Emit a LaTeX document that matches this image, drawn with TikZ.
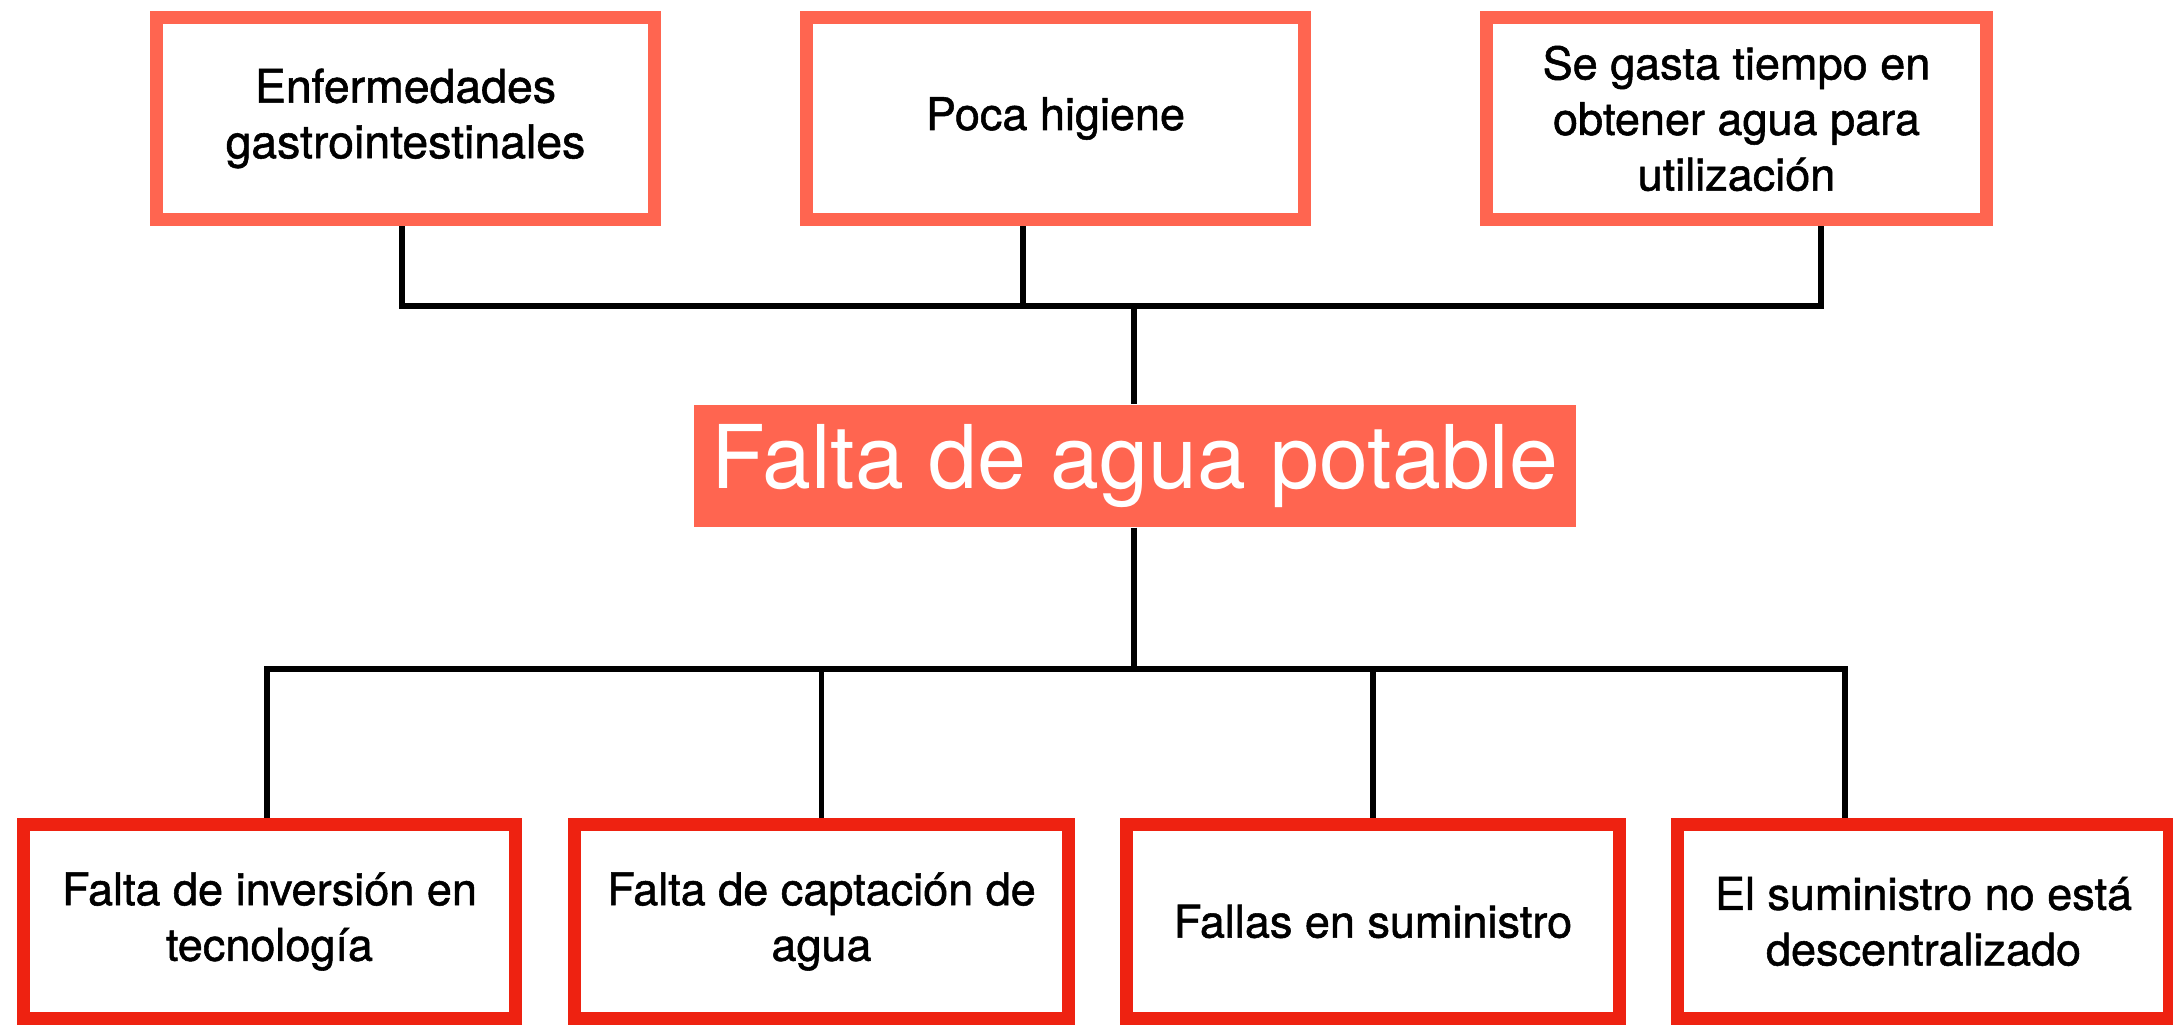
\documentclass[tikz,border=0pt]{standalone}
\usepackage{fontspec}
\setmainfont{TeX Gyre Heros}
\newfontfamily\medfont{TeX Gyre Heros}[FakeBold=1.2]
\definecolor{topred}{HTML}{FF6550}
\definecolor{botred}{HTML}{EE2211}
\begin{document}
\begin{tikzpicture}[x=0.01cm,y=-0.01cm,
  boxtext/.style={align=center, inner sep=0pt, font=\medfont\fontsize{12.8}{15.8}\selectfont},
  topbox/.style={boxtext, draw=topred, line width=3.7pt, fill=white, minimum height=2.02cm},
  botbox/.style={boxtext, draw=botred, line width=3.7pt, fill=white, minimum height=1.94cm},
  conn/.style={line width=1.45pt, black}]
\useasboundingbox (0,0) rectangle (2173,1025);
% junction coordinates
\coordinate (tl) at (402,306);
\coordinate (tm) at (1023,306);
\coordinate (tr) at (1821,306);
\coordinate (jt) at (1134,306);
\coordinate (jb) at (1134,669);
\coordinate (bl) at (267,669);
\coordinate (br) at (1845,669);
% nodes
\node[topbox, minimum width=4.98cm, font=\medfont\fontsize{13.2}{15.8}\selectfont] (t1) at (405.5,118.5) {Enfermedades\\gastrointestinales};
\node[topbox, minimum width=4.98cm] (t2) at (1055.5,118.5) {Poca higiene};
\node[topbox, minimum width=5.00cm] (t3) at (1736.5,118.5) {Se gasta tiempo en\\obtener agua para\\utilización};
\node[fill=topred, text=white, inner sep=0pt, minimum width=8.82cm, minimum height=1.22cm,
      font=\fontsize{25}{30}\selectfont] (c) at (1135,466) {Falta de agua potable};
\node[botbox, minimum width=4.92cm] (b1) at (269.5,921.5) {Falta de inversión en\\tecnología};
\node[botbox, minimum width=4.94cm] (b2) at (821.5,921.5) {Falta de captación de\\agua};
\node[botbox, minimum width=4.93cm] (b3) at (1373,921.5) {Fallas en suministro};
\node[botbox, minimum width=4.92cm] (b4) at (1923.5,921.5) {El suministro no está\\descentralizado};
% connectors
\draw[conn] (t1.south -| tl) -- (tl) -- (tr) -- (t3.south -| tr);
\draw[conn] (t2.south -| tm) -- (tm);
\draw[conn] (jt) -- (c.north -| jt);
\draw[conn] (c.south -| jb) -- (jb);
\draw[conn] (b1.north -| bl) -- (bl) -- (br) -- (b4.north -| br);
\draw[conn] (b2.north) -- (b2.north |- bl);
\draw[conn] (b3.north) -- (b3.north |- bl);
\end{tikzpicture}
\end{document}
